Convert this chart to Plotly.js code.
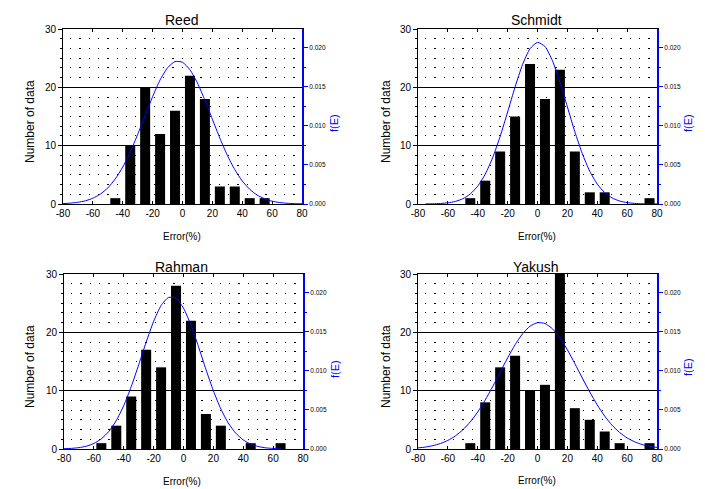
<!DOCTYPE html>
<html>
<head>
<meta charset="utf-8">
<script src="https://cdn.plot.ly/plotly-3.0.1.min.js"></script>
<style>html,body{margin:0;padding:0;background:#fff;}#chart{width:705px;height:489px;}</style>
</head>
<body>
<div id="chart"></div>
<script>
// ---- data ----
const binCenters = [-75,-65,-55,-45,-35,-25,-15,-5,5,15,25,35,45,55,65,75];
const reedCounts    = [0,0,0,1,10,20,12,16,22,18,3,3,1,1,0,0];
const schmidtCounts = [0,0,0,1,4,9,15,24,18,23,9,2,2,0,0,1];
const rahmanCounts  = [0,0,1,4,9,17,14,28,22,6,4,0,1,0,1,0];
const yakushCounts  = [0,0,0,1,8,14,16,10,11,30,7,5,3,1,0,1];

const curveX = [-80,-75,-70,-65,-60,-55,-50,-45,-40,-35,-30,-25,-20,-15,-10,-5,0,5,10,15,20,25,30,35,40,45,50,55,60,65,70,75,80];
const reedF = [0.00005,0.00011,0.00022,0.00041,0.00074,0.00127,0.00206,0.00321,0.00473,0.00666,0.00891,0.01135,0.01375,0.01588,0.01744,0.01823,0.01814,0.01718,0.01549,0.01329,0.01085,0.00844,0.00624,0.0044,0.00295,0.00188,0.00114,0.00066,0.00036,0.00019,0.000095,0.000045,0.00002];
const schmidtF = [null,0.00001,0.000026,0.000065,0.00015,0.00033,0.00067,0.00128,0.00229,0.00382,0.00594,0.00865,0.01178,0.01499,0.01785,0.01988,0.02069,0.02015,0.01834,0.01561,0.01243,0.00925,0.00644,0.00419,0.00255,0.00145,0.00077,0.00038,0.00018,0.000078,0.000032,0.000012,0.000004];
const rahmanF = [0.000034,0.00008,0.000176,0.00036,0.00071,0.0013,0.00224,0.00364,0.00556,0.00798,0.01078,0.01368,0.01634,0.01837,0.0194,0.01929,0.01803,0.01585,0.01311,0.0102,0.00746,0.00513,0.00332,0.00202,0.00116,0.00062,0.00032,0.00015,0.000067,0.000028,null,null,null];
const yakushF = [0.00014,0.00025,0.00043,0.0007,0.0011,0.00167,0.00245,0.00347,0.00475,0.00628,0.00799,0.00983,0.01166,0.01334,0.01474,0.01572,0.01617,0.01606,0.01539,0.01423,0.0127,0.01093,0.00909,0.00729,0.00564,0.00421,0.00303,0.00211,0.00142,0.00092,0.00057,0.00035,0.0002];

const panelNames = ['Reed','Schmidt','Rahman','Yakush'];
const xTickVals = [-80,-60,-40,-20,0,20,40,60,80];
const yTickVals = [0,10,20,30];
const fTickVals = [0,0.005,0.01,0.015,0.02];
const fTickText = ['0.000','0.005','0.010','0.015','0.020'];

// ---- layout geometry (pixels) ----
const W = 705, H = 489;
const panels = [
  {x0:63, x1:302, y0:29, y1:204},
  {x0:418, x1:657, y0:29, y1:204},
  {x0:64, x1:303, y0:274, y1:449},
  {x0:418, x1:657, y0:274, y1:449}
];
const counts = [reedCounts, schmidtCounts, rahmanCounts, yakushCounts];
const curves = [reedF, schmidtF, rahmanF, yakushF];

const FONT = 'Arial, "Liberation Sans", sans-serif';
const data = [];
const layout = {
  width: W, height: H,
  margin: {l:0, r:0, t:0, b:0},
  paper_bgcolor: '#fff', plot_bgcolor: 'rgba(0,0,0,0)',
  showlegend: false,
  font: {family: FONT, color: '#000', size: 10},
  annotations: []
};

function px(x){return x/W;}
function py(y){return 1 - y/H;}

panels.forEach((p, i) => {
  const n = i + 1;
  const xa = 'x' + (n === 1 ? '' : n);
  const ya = 'y' + (n === 1 ? '' : n);
  const yr = 'y' + (n + 4);
  data.push({
    type: 'bar', x: binCenters, y: counts[i], width: 6.7,
    marker: {color: '#000', line: {width: 0}},
    xaxis: xa, yaxis: ya, hoverinfo: 'skip'
  });
  data.push({
    type: 'scatter', mode: 'lines', x: curveX, y: curves[i],
    line: {color: '#0000ff', width: 1, shape: 'spline', smoothing: 0.6},
    xaxis: xa, yaxis: yr, hoverinfo: 'skip', connectgaps: false, cliponaxis: true
  });
  const xKey = 'xaxis' + (n === 1 ? '' : n);
  const yKey = 'yaxis' + (n === 1 ? '' : n);
  const yrKey = 'yaxis' + (n + 4);
  layout[xKey] = {
    domain: [px(p.x0), px(p.x1)], anchor: ya,
    range: [-80, 80], tickvals: xTickVals, ticktext: xTickVals.map(String),
    showline: true, linecolor: '#000', linewidth: 1, mirror: 'ticks',
    ticks: 'inside', ticklen: 3, tickcolor: '#000', tickwidth: 1,
    showgrid: false, zeroline: false,
    tickfont: {size: 10, family: FONT, color: '#000'},
    fixedrange: true
  };
  layout[yKey] = {
    domain: [py(p.y1), py(p.y0)], anchor: xa,
    range: [0, 30], tickvals: yTickVals,
    showline: true, linecolor: '#000', linewidth: 1,
    ticks: 'outside', ticklen: 4, tickcolor: '#000', tickwidth: 1,
    showgrid: true, gridcolor: '#000', gridwidth: 1,
    zeroline: false,
    minor: {dtick: 10/6, tick0: 0, showgrid: true, gridcolor: '#000', gridwidth: 1,
            griddash: '0px,7px,1.3px,1px', ticks: 'outside', ticklen: 2, tickcolor: '#000'},
    tickfont: {size: 10, family: FONT, color: '#000'},
    fixedrange: true
  };
  layout[yrKey] = {
    overlaying: ya, anchor: xa, side: 'right',
    range: [0, 0.0224], tickvals: fTickVals, ticktext: fTickText,
    showline: true, linecolor: '#0000ff', linewidth: 2,
    ticks: 'outside', ticklen: 4, tickcolor: '#0000ff', tickwidth: 1,
    minor: {dtick: 0.0025, tick0: 0, ticks: 'outside', ticklen: 2, tickcolor: '#0000ff', showgrid: false},
    showgrid: false, zeroline: false,
    tickfont: {size: 6.5, family: FONT, color: '#000'},
    ticklabelstandoff: 0,
    fixedrange: true
  };
});

// ---- text placement (pixels) ----
const titlePos = [[181.7,20],[536.7,20],[181.3,267],[535.7,267]];
const errPos = [[182,236],[537,236],[182,481],[537,480]];
const numPos = [[30,122],[386,122],[30,367],[386,367]];
const fPos = [[334,123],[688,123],[335,369],[688,367]];
panelNames.forEach((name, i) => {
  layout.annotations.push({text: name, x: px(titlePos[i][0]), y: py(titlePos[i][1]), xref:'paper', yref:'paper',
    xanchor:'center', yanchor:'middle', showarrow:false, font:{size:14, family:FONT, color:'#000'}});
  layout.annotations.push({text: 'Error(%)', x: px(errPos[i][0]), y: py(errPos[i][1]), xref:'paper', yref:'paper',
    xanchor:'center', yanchor:'middle', showarrow:false, font:{size:10, family:FONT, color:'#000'}});
  layout.annotations.push({text: 'Number of data', x: px(numPos[i][0]), y: py(numPos[i][1]), xref:'paper', yref:'paper',
    xanchor:'center', yanchor:'middle', showarrow:false, textangle:-90, font:{size:12, family:FONT, color:'#000'}});
  layout.annotations.push({text: 'f(E)', x: px(fPos[i][0]), y: py(fPos[i][1]), xref:'paper', yref:'paper',
    xanchor:'center', yanchor:'middle', showarrow:false, textangle:-90, font:{size:11, family:FONT, color:'#0000ff'}});
});

Plotly.newPlot('chart', data, layout, {staticPlot: true, displayModeBar: false});
</script>
</body>
</html>
